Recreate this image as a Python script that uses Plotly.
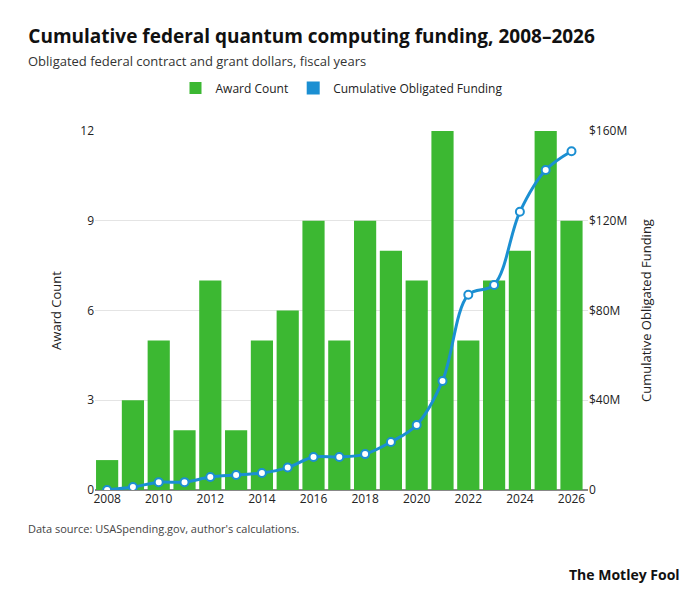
import plotly.graph_objects as go

years = list(range(2008, 2027))
award_count = [1, 3, 5, 2, 7, 2, 5, 6, 9, 5, 9, 8, 7, 12, 5, 7, 8, 12, 9]
cum_funding_m = [0, 1.3, 3.5, 3.5, 5.8, 6.7, 7.6, 10, 14.7, 14.7, 16, 21.4, 29, 48.6, 87, 91.4, 124, 142.6, 151]
left_ticks = [0, 3, 6, 9, 12]
right_ticks = [0, 40, 80, 120, 160]
right_labels = ["0", "$40M", "$80M", "$120M", "$160M"]
x_ticks = list(range(2008, 2027, 2))

FONT = "Open Sans"
BLUE = "#1b8fd2"
fig = go.Figure()
fig.add_trace(go.Bar(x=years, y=award_count, name="Award Count", marker_color="#3cb832",
                     marker_line_width=0, width=0.86))
fig.add_trace(go.Scatter(x=years, y=cum_funding_m, name="Cumulative Obligated Funding", yaxis="y2",
                         mode="lines+markers", showlegend=False,
                         line=dict(color=BLUE, width=3, shape="spline"),
                         marker=dict(size=8, color="white", line=dict(color=BLUE, width=2))))
fig.add_trace(go.Scatter(x=[None], y=[None], name="Cumulative Obligated Funding", mode="markers",
                         marker=dict(symbol="square", size=13, color=BLUE)))
fig.update_layout(
    width=700, height=595, plot_bgcolor="white", paper_bgcolor="white",
    font=dict(family=FONT, color="#222", size=12),
    margin=dict(l=87, r=120, t=123, b=113),
    title=dict(text="<b>Cumulative federal quantum computing funding, 2008–2026</b>",
               x=0.029, xanchor="left", y=0.952, yanchor="middle", pad=dict(l=0, t=0),
               font=dict(size=19, color="#111")),
    legend=dict(orientation="h", x=0.5, xanchor="center", y=1.12, yanchor="middle",
                font=dict(size=12), itemwidth=30),
    bargap=0.1,
    xaxis=dict(tickvals=x_ticks, range=[2007.53, 2026.64], showgrid=False, ticks="",
               tickfont=dict(size=12), showline=False),
    yaxis=dict(title=dict(text="Award Count", font=dict(size=13)), range=[0, 12], tickvals=left_ticks,
               showgrid=True, gridcolor="#e4e4e4", zeroline=True, zerolinecolor="#888", ticks=""),
    yaxis2=dict(title=dict(text="Cumulative Obligated Funding", font=dict(size=13)), overlaying="y",
                side="right", range=[0, 160], tickvals=right_ticks, ticktext=right_labels,
                showgrid=False, zeroline=False, ticks=""),
    annotations=[
        dict(text="Obligated federal contract and grant dollars, fiscal years", xref="paper", yref="paper",
             x=-0.14, y=1.195, xanchor="left", yanchor="middle", showarrow=False,
             font=dict(size=13, color="#333")),
        dict(text="Data source: USASpending.gov, author's calculations.", xref="paper", yref="paper",
             x=-0.14, y=-0.106, xanchor="left", yanchor="middle", showarrow=False,
             font=dict(size=11, color="#444")),
        dict(text="<b>The Motley Fool</b>", xref="paper", yref="paper", x=1.19, y=-0.234,
             xanchor="right", yanchor="middle", showarrow=False, font=dict(size=14, color="#111")),
    ],
)
fig.write_html("out.html")
